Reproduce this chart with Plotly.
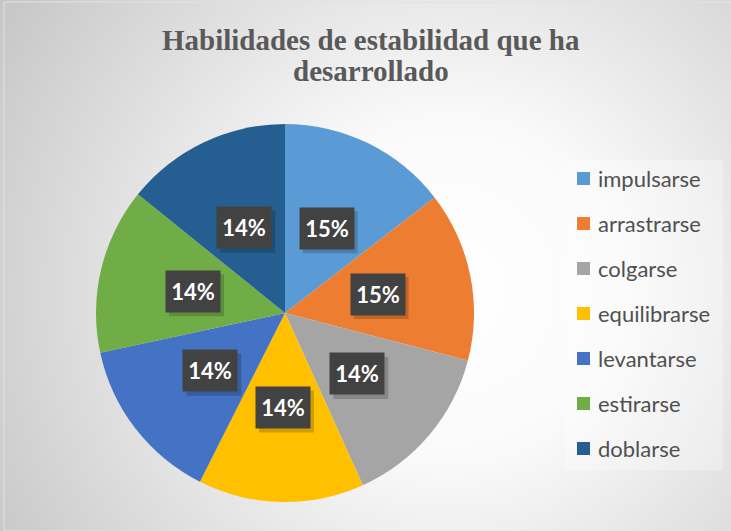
import base64
import math
import plotly.graph_objects as go

# data
labels = ["impulsarse", "arrastrarse", "colgarse", "equilibrarse",
          "levantarse", "estirarse", "doblarse"]
values = [43, 43, 42, 42, 42, 42, 42]
colors = ["#5B9BD5", "#ED7D31", "#A5A5A5", "#FFC000",
          "#4472C4", "#70AD47", "#255E91"]
title_lines = ["Habilidades de estabilidad que ha", "desarrollado"]

W, H = 731, 531
# pie geometry in pixels
cx, cy, r = 285, 313, 189

# radial gradient background as svg
svg = f'''<svg xmlns="http://www.w3.org/2000/svg" width="{W}" height="{H}" viewBox="0 0 {W} {H}" preserveAspectRatio="none">
<defs><radialGradient id="g" gradientUnits="userSpaceOnUse" cx="450" cy="290" r="560">
<stop offset="0" stop-color="#ffffff"/><stop offset="0.3" stop-color="#fafafa"/>
<stop offset="1" stop-color="#c2c2c2"/></radialGradient></defs>
<rect width="{W}" height="{H}" fill="url(#g)"/></svg>'''
bg_src = "data:image/svg+xml;base64," + base64.b64encode(svg.encode()).decode()

fig = go.Figure()
fig.add_trace(go.Pie(
    labels=labels, values=values, sort=False, direction="clockwise", rotation=0,
    marker=dict(colors=colors, line=dict(width=0)),
    textinfo="none", hoverinfo="label+percent", showlegend=False,
    domain=dict(x=[(cx - r) / W, (cx + r) / W], y=[1 - (cy + r) / H, 1 - (cy - r) / H]),
))

shapes = [
    dict(type="rect", xref="paper", yref="paper", x0=565 / W, x1=723 / W, y0=1 - 470 / H, y1=1 - 160 / H,
         fillcolor="rgba(255,255,255,0.3)", line=dict(width=0), layer="below"),
    dict(type="rect", xref="paper", yref="paper", x0=4 / W, x1=1, y0=0, y1=1 - 2 / H,
         fillcolor="rgba(0,0,0,0)", line=dict(color="#e2e2e2", width=1)),
]

# percent labels with dark boxes, placed at half radius on each slice mid angle
total = sum(values)
ann = []
cum = 0
for v in values:
    mid = (cum + v / 2) / total * 2 * math.pi
    cum += v
    px_ = cx + 0.5 * r * math.sin(mid)
    py_ = cy - 0.5 * r * math.cos(mid)
    txt = f"{v / total:.0%}"
    # soft shadow under the box
    shapes.append(dict(type="rect", xref="paper", yref="paper",
                       x0=(px_ - 24) / W, x1=(px_ + 31) / W, y0=1 - (py_ + 25) / H, y1=1 - (py_ - 17) / H,
                       fillcolor="rgba(0,0,0,0.18)", line=dict(width=0)))
    ann.append(dict(x=px_ / W, y=1 - py_ / H, xref="paper", yref="paper", showarrow=False,
                    xanchor="center", yanchor="middle", width=48, height=35, borderpad=3,
                    text=f"<b>{txt}</b>", bgcolor="#424242",
                    font=dict(family="Lato", size=22, color="white")))

# legend drawn by hand
for i, (lab, col) in enumerate(zip(labels, colors)):
    yc = 178.5 + i * 45
    shapes.append(dict(type="rect", xref="paper", yref="paper", x0=577 / W, x1=590 / W,
                       y0=1 - (yc + 6.5) / H, y1=1 - (yc - 6.5) / H, fillcolor=col, line=dict(width=0)))
    ann.append(dict(x=596 / W, y=1 - yc / H, xref="paper", yref="paper", text=lab, showarrow=False,
                    xanchor="left", yanchor="middle", font=dict(family="Lato", size=22, color="#505050")))

# title as two lines, tighter spacing than plotly's own line break
for line, top in zip(title_lines, [22, 53]):
    ann.append(dict(x=371 / W, y=1 - top / H, xref="paper", yref="paper", showarrow=False,
                    xanchor="center", yanchor="top", text="<b>" + line + "</b>",
                    font=dict(family="Liberation Serif", size=29, color="#595959")))

fig.update_layout(
    width=W, height=H, margin=dict(l=0, r=0, t=0, b=0),
    paper_bgcolor="#d6d6d6", plot_bgcolor="rgba(0,0,0,0)",
    images=[dict(source=bg_src, xref="paper", yref="paper", x=0, y=1, sizex=1, sizey=1,
                 sizing="stretch", xanchor="left", yanchor="top", layer="below")],
    annotations=ann, shapes=shapes,
)

fig.write_html("out.html", config={"displayModeBar": False},
               post_script="document.body.style.margin='0';")
